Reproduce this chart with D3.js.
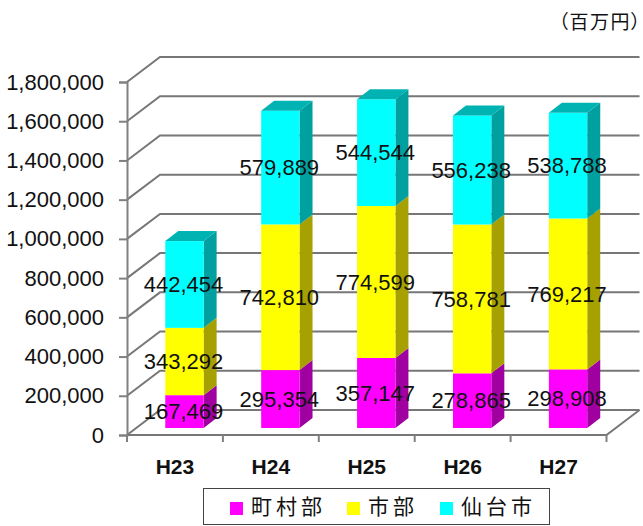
<!DOCTYPE html>
<html>
<head>
<meta charset="utf-8">
<script src="https://cdn.jsdelivr.net/npm/d3@7"></script>
<style>
  html, body { margin: 0; padding: 0; background: #fff; }
  svg { display: block; }
  text { font-family: "Liberation Sans", sans-serif; fill: #111; }
  .cjk { font-family: "Noto Sans CJK JP", sans-serif; }
</style>
</head>
<body>
<div id="chart"></div>
<script>
var years = ['H23', 'H24', 'H25', 'H26', 'H27'];
var towns = [167469, 295354, 357147, 278865, 298908];
var cities = [343292, 742810, 774599, 758781, 769217];
var sendai = [442454, 579889, 544544, 556238, 538788];
var seriesNames = ['町村部', '市部', '仙台市'];
var yTicks = [0, 200000, 400000, 600000, 800000, 1000000, 1200000, 1400000, 1600000, 1800000];

var width = 643,
  height = 526,
  x0 = 127, x1 = 606.5,
  y0 = 435, y1 = 82,
  wallDx = 33, wallDy = -25,    // depth of the floor and walls
  barDx = 13, barDy = -10,      // depth of one bar
  baseDx = 9.5, baseDy = -7;    // bars stand a little inside the floor

var gridColor = '#777',
  faces = [
    {front: '#ff00ff', side: '#a000a0', top: '#b300b3'},
    {front: '#ffff00', side: '#a6a000', top: '#b3b300'},
    {front: '#00ffff', side: '#00a0a0', top: '#00b3b3'}
  ];

var x = d3.scaleBand().domain(years).range([x0, x1]).paddingInner(0.6).paddingOuter(0.3);
var y = d3.scaleLinear().domain([0, 1800000]).range([y0, y1]);

var rows = years.map(function(year, i) {
  return {year: year, a: towns[i], b: cities[i], c: sendai[i]};
});
var stacked = d3.stack().keys(['a', 'b', 'c'])(rows);

var svg = d3.select('#chart')
  .append('svg')
  .attr('width', width)
  .attr('height', height);

// back wall and left wall lines
var grid = svg.append('g')
  .attr('fill', 'none')
  .attr('stroke', gridColor)
  .attr('stroke-width', 2);

grid.selectAll('path')
  .data(yTicks)
  .enter()
  .append('path')
  .attr('d', function(t) {
    return 'M' + x0 + ',' + y(t) + 'l' + wallDx + ',' + wallDy + 'H' + (x1 + wallDx);
  });

// floor front edge and right edge
grid.append('path')
  .attr('d', 'M' + x0 + ',' + y0 + 'H' + x1 + 'l' + wallDx + ',' + wallDy);

// bars, one stack at a time
stacked.forEach(function(layer, s) {
  var g = svg.append('g');
  var face = faces[s];

  g.selectAll('.side')
    .data(layer)
    .enter()
    .append('path')
    .attr('fill', face.side)
    .attr('d', function(d) {
      var r = x(d.data.year) + x.bandwidth() + baseDx;
      var lo = y(d[0]) + baseDy, hi = y(d[1]) + baseDy;
      return 'M' + r + ',' + lo + 'l' + barDx + ',' + barDy + 'V' + (hi + barDy) + 'l' + (-barDx) + ',' + (-barDy) + 'Z';
    });

  g.selectAll('.front')
    .data(layer)
    .enter()
    .append('rect')
    .attr('fill', face.front)
    .attr('x', function(d) { return x(d.data.year) + baseDx; })
    .attr('y', function(d) { return y(d[1]) + baseDy; })
    .attr('width', x.bandwidth())
    .attr('height', function(d) { return y(d[0]) - y(d[1]); });

  // only the top of the stack shows its lid
  if (s === stacked.length - 1) {
    g.selectAll('.top')
      .data(layer)
      .enter()
      .append('path')
      .attr('fill', face.top)
      .attr('d', function(d) {
        var l = x(d.data.year) + baseDx;
        var hi = y(d[1]) + baseDy;
        return 'M' + l + ',' + hi + 'l' + barDx + ',' + barDy + 'h' + x.bandwidth() + 'l' + (-barDx) + ',' + (-barDy) + 'Z';
      });
  }
});

// axes
var yAxis = d3.axisLeft(y)
  .tickValues(yTicks)
  .tickFormat(d3.format(','))
  .tickSize(8)
  .tickPadding(15);

var yG = svg.append('g')
  .attr('transform', 'translate(' + x0 + ',0)')
  .call(yAxis);
yG.select('.domain').attr('stroke', '#808080').attr('stroke-width', 2);
yG.selectAll('.tick line').attr('stroke', '#808080').attr('stroke-width', 2);
yG.selectAll('text').attr('font-size', 22).attr('font-family', '"Liberation Sans", sans-serif').attr('fill', '#222');

var xEdges = d3.scaleLinear().domain([0, years.length]).range([x0, x1]);
svg.append('g')
  .selectAll('line')
  .data(d3.range(years.length + 1))
  .enter()
  .append('line')
  .attr('x1', function(d) { return xEdges(d); })
  .attr('x2', function(d) { return xEdges(d); })
  .attr('y1', y0)
  .attr('y2', y0 + 7)
  .attr('stroke', '#808080')
  .attr('stroke-width', 2);

svg.append('g')
  .selectAll('text')
  .data(years)
  .enter()
  .append('text')
  .attr('x', function(d) { return x(d) + x.bandwidth() / 2; })
  .attr('y', 474)
  .attr('text-anchor', 'middle')
  .attr('font-size', 21)
  .attr('font-weight', 'bold')
  .text(function(d) { return d; });

// value labels sit on top of every bar
stacked.forEach(function(layer) {
  svg.append('g')
    .selectAll('text')
    .data(layer)
    .enter()
    .append('text')
    .attr('x', function(d) { return x(d.data.year) + x.bandwidth() / 2 + baseDx - 1; })
    .attr('y', function(d) { return (y(d[0]) + y(d[1])) / 2 + baseDy; })
    .attr('dy', '0.35em')
    .attr('text-anchor', 'middle')
    .attr('font-size', 22)
    .attr('fill', '#000')
    .text(function(d) { return d3.format(',')(d[1] - d[0]); });
});

// unit, palt trims the wide brackets so it fits the page
svg.append('text')
  .attr('class', 'cjk')
  .attr('x', 642)
  .attr('y', 29)
  .attr('text-anchor', 'end')
  .attr('font-size', 19)
  .style('font-feature-settings', '"palt"')
  .style('letter-spacing', '1.5px')
  .text('（百万円）');

// legend
var legendSwatchX = [230, 347, 440];
var legend = svg.append('g');
legend.append('rect')
  .attr('x', 203.5)
  .attr('y', 488.5)
  .attr('width', 346)
  .attr('height', 36)
  .attr('fill', '#fff')
  .attr('stroke', '#444');

seriesNames.forEach(function(name, i) {
  legend.append('rect')
    .attr('x', legendSwatchX[i])
    .attr('y', 502)
    .attr('width', 13)
    .attr('height', 13)
    .attr('fill', faces[i].front);
  legend.append('text')
    .attr('class', 'cjk')
    .attr('x', legendSwatchX[i] + 21)
    .attr('y', 514)
    .attr('font-size', 21)
    .attr('letter-spacing', 4)
    .text(name);
});
</script>
</body>
</html>
